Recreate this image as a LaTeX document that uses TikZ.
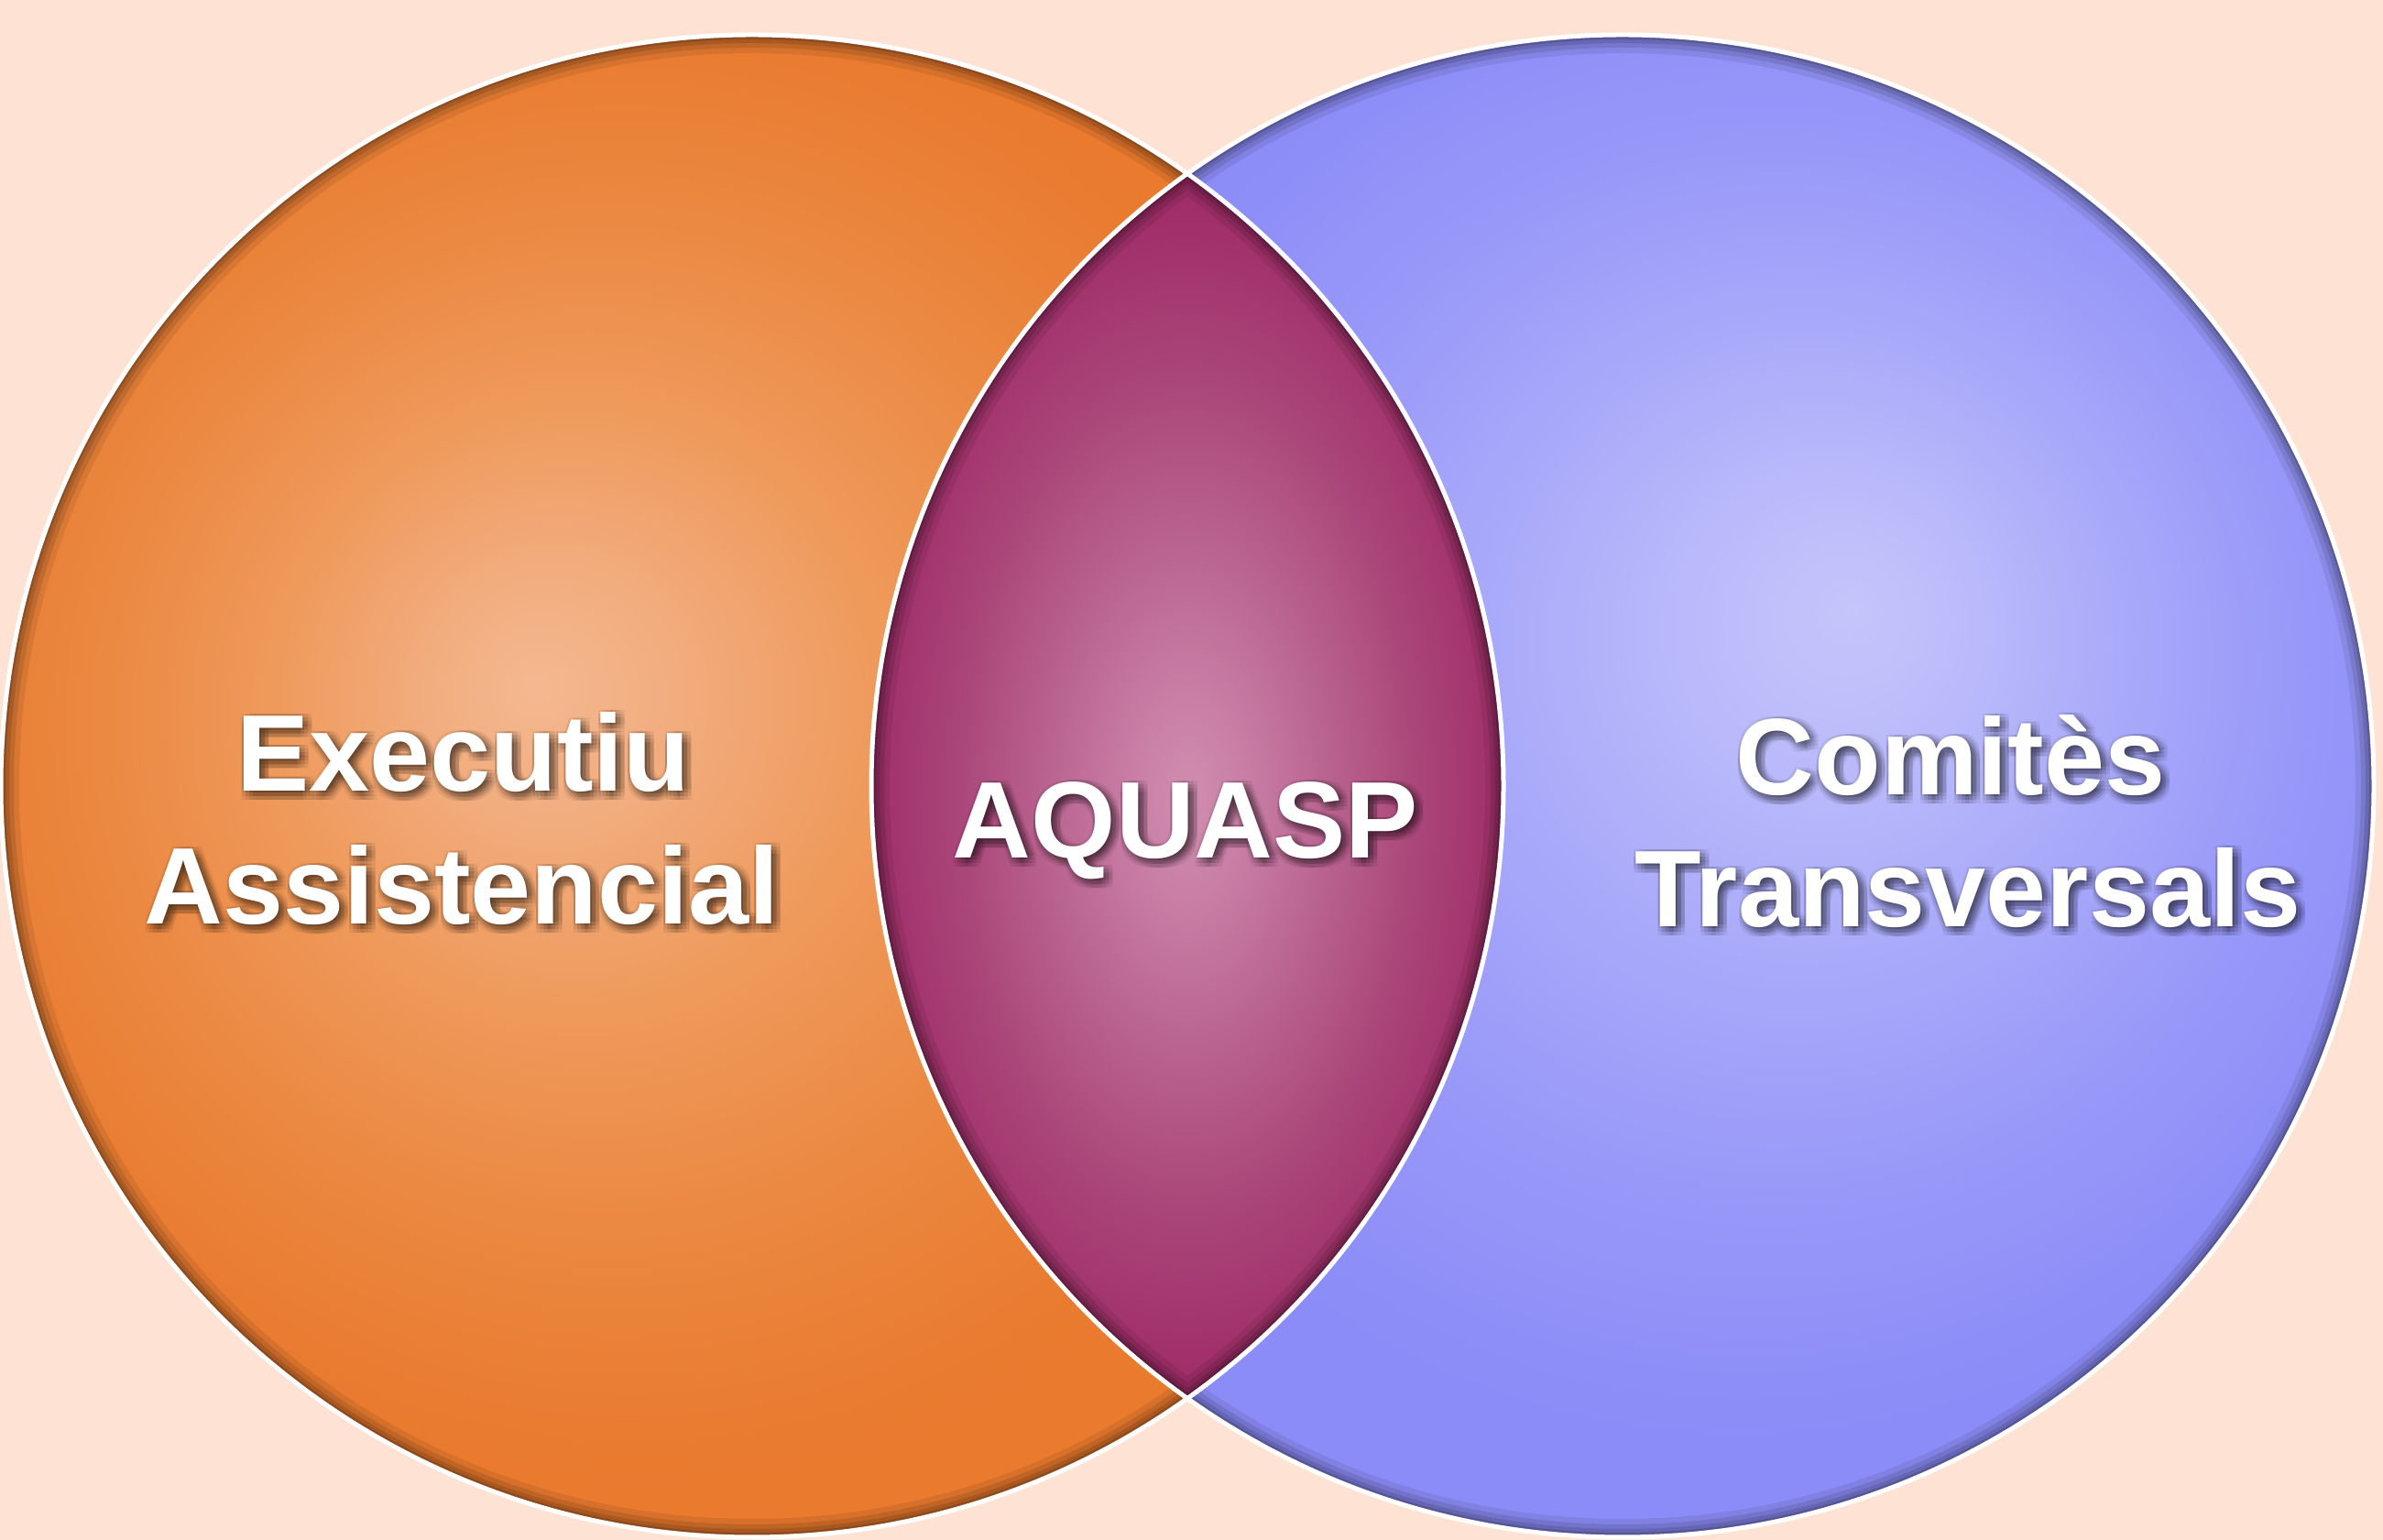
\documentclass[tikz,border=0pt]{standalone}
\usepackage{fontspec}
\setmainfont{Liberation Sans}
\usetikzlibrary{calc}
\definecolor{bgpeach}{HTML}{FEE2D3}
\definecolor{or0}{HTML}{F4B890}
\definecolor{or1}{HTML}{F2AD7F}
\definecolor{or2}{HTML}{EF9A5C}
\definecolor{or3}{HTML}{EB8841}
\definecolor{or4}{HTML}{E97C31}
\definecolor{or5}{HTML}{E97A2E}
\definecolor{bl0}{HTML}{C5C5FB}
\definecolor{bl1}{HTML}{BCBCFB}
\definecolor{bl2}{HTML}{ABABFA}
\definecolor{bl3}{HTML}{9999F9}
\definecolor{bl4}{HTML}{8E8EF8}
\definecolor{bl5}{HTML}{8C8CF8}
\definecolor{mg0}{HTML}{D08EB0}
\definecolor{mg1}{HTML}{C97FA6}
\definecolor{mg2}{HTML}{BA6591}
\definecolor{mg3}{HTML}{AA4679}
\definecolor{mg4}{HTML}{A1306B}
\definecolor{mg5}{HTML}{9E2C67}
\pgfdeclareradialshading{orangesh}{\pgfpoint{-7.3bp}{3.3bp}}{color(0bp)=(or0); color(4bp)=(or1); color(10bp)=(or2); color(17bp)=(or3); color(23bp)=(or4); color(25bp)=(or5); color(50bp)=(or5)}
\pgfdeclareradialshading{bluesh}{\pgfpoint{7.7bp}{5.9bp}}{color(0bp)=(bl0); color(4bp)=(bl1); color(10bp)=(bl2); color(17bp)=(bl3); color(23bp)=(bl4); color(25bp)=(bl5); color(50bp)=(bl5)}
\pgfdeclareradialshading{magsh}{\pgfpoint{0bp}{-0.5bp}}{color(0bp)=(mg0); color(4bp)=(mg1); color(10bp)=(mg2); color(17bp)=(mg3); color(23bp)=(mg4); color(25bp)=(mg5); color(50bp)=(mg5)}
\tikzset{
  lbl/.style={font=\fontsize{33.8}{40}\selectfont\bfseries, text=white, inner sep=0pt, anchor=base},
  shadowlbl/.style={lbl, text=black, opacity=0.06},
  outline/.style={draw=white, line width=0.05cm},
}
\newcommand\innershade[1]{%
  \begin{scope}
    \clip #1;
    \foreach \w/\o in {0.40/0.08,0.28/0.10,0.18/0.12,0.10/0.15}{\draw[line width=\w cm, black, opacity=\o] #1;}
  \end{scope}}
\newcommand\shadowedlabel[3]{%
  \foreach \dx [count=\i] in {-0.02,0.02,0.06,0.10}{%
    \foreach \dy [count=\j] in {0.02,-0.02,-0.06,-0.10}{%
      \node[shadowlbl] (#1sh\i\j) at ([shift={(\dx,\dy)}]#2) {#3};}}
  \node[lbl] (#1) at (#2) {#3};}
\begin{document}
\begin{tikzpicture}
\useasboundingbox (0,0) rectangle (26.01,16.81);
\fill[bgpeach] (0,0) rectangle (26.01,16.81);
\coordinate (L) at (8.21,8.23);
\coordinate (R) at (17.71,8.23);
\coordinate (T) at (12.96,14.914);
% left circle
\shade[shading=orangesh] (L) circle (8.2);
\innershade{(L) circle (8.2)}
% right circle
\shade[shading=bluesh] (R) circle (8.2);
\innershade{(R) circle (8.2)}
% intersection
\shade[shading=magsh] (T) arc[start angle=125.4, end angle=234.6, radius=8.2] arc[start angle=-54.6, end angle=54.6, radius=8.2] -- cycle;
\begin{scope}
  \clip (T) arc[start angle=125.4, end angle=234.6, radius=8.2] arc[start angle=-54.6, end angle=54.6, radius=8.2] -- cycle;
  \foreach \w/\o in {0.40/0.08,0.28/0.10,0.18/0.12,0.10/0.15}{\draw[line width=\w cm, black, opacity=\o] (L) circle (8.2) (R) circle (8.2);}
\end{scope}
% outlines
\draw[outline] (L) circle (8.2) (R) circle (8.2);
% labels
\coordinate (p1) at (5.06,8.17);
\coordinate (p2) at (5.04,6.72);
\coordinate (p3) at (12.94,7.44);
\coordinate (p4) at (21.29,8.13);
\coordinate (p5) at (21.48,6.69);
\shadowedlabel{exec}{p1}{Executiu}
\shadowedlabel{assist}{p2}{Assistencial}
\shadowedlabel{aquasp}{p3}{AQUASP}
\shadowedlabel{comites}{p4}{Comitès}
\shadowedlabel{transv}{p5}{Transversals}
\end{tikzpicture}
\end{document}
